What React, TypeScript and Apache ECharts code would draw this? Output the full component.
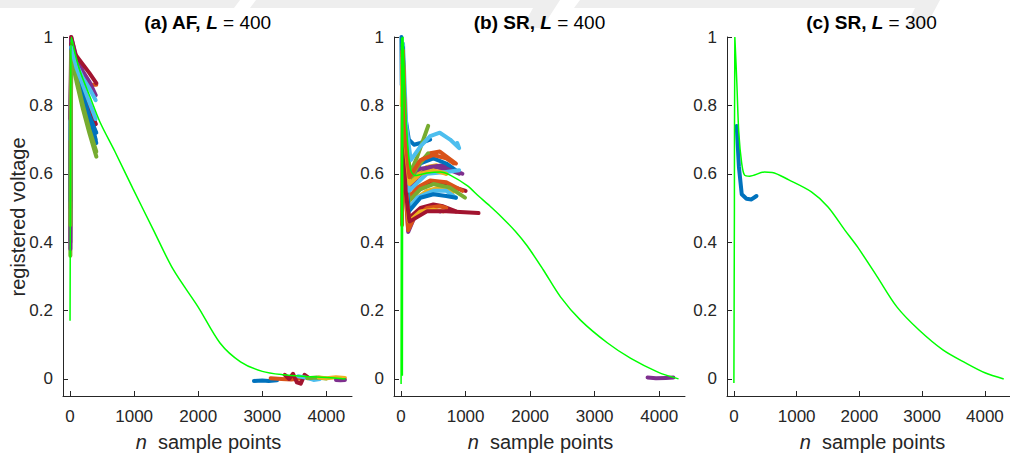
import React, { useEffect, useRef } from "react";
import * as echarts from "echarts";

const COLORS = ["#0072BD", "#D95319", "#EDB120", "#7E2F8E", "#77AC30", "#4DBEEE", "#A2142F"];
const GREEN = "#00FF00";

const xTicks = [0, 1000, 2000, 3000, 4000];
const yTicks = [0, 0.2, 0.4, 0.6, 0.8, 1];

const panelTitles = [
  ["(a) AF, ", "L", " = 400"],
  ["(b) SR, ", "L", " = 400"],
  ["(c) SR, ", "L", " = 300"],
];

// Panel (a): AF, L = 400 — [color index, [n, voltage] pairs]
const tracesA: [number, number[][]][] = [
  [0, [[5, 0.5], [18, 0.99], [100, 0.92], [200, 0.84], [300, 0.77], [400, 0.7]]],
  [1, [[5, 0.6], [18, 0.98], [100, 0.93], [200, 0.89], [300, 0.86], [410, 0.86]]],
  [2, [[5, 0.55], [18, 0.97], [100, 0.9], [200, 0.83], [300, 0.77], [400, 0.72]]],
  [3, [[5, 0.4], [18, 1.0], [100, 0.94], [200, 0.9], [300, 0.87], [400, 0.83]]],
  [4, [[5, 0.36], [18, 0.95], [100, 0.87], [200, 0.79], [300, 0.72], [410, 0.65]]],
  [5, [[5, 0.7], [18, 0.98], [100, 0.92], [200, 0.88], [300, 0.85], [400, 0.815]]],
  [6, [[5, 0.76], [18, 1.0], [80, 0.95], [200, 0.92], [300, 0.895], [410, 0.865]]],
  [0, [[5, 0.52], [18, 0.98], [100, 0.91], [200, 0.82], [300, 0.76], [410, 0.69]]],
  [3, [[5, 0.38], [18, 0.99], [100, 0.92], [200, 0.86], [300, 0.8], [400, 0.745]]],
  [6, [[18, 0.98], [100, 0.91], [200, 0.85], [300, 0.8], [400, 0.745]]],
  [0, [[18, 0.97], [100, 0.9], [200, 0.83], [300, 0.77], [410, 0.72]]],
  [4, [[5, 0.45], [18, 0.96], [100, 0.88], [200, 0.8], [300, 0.73], [410, 0.665]]],
  [5, [[18, 0.97], [100, 0.91], [200, 0.86], [300, 0.81], [400, 0.76]]],
  [0, [[2870, -0.006], [3000, -0.005], [3100, -0.006], [3230, -0.004]]],
  [1, [[3130, 0.002], [3300, 0.0], [3450, -0.002], [3600, 0.001]]],
  [6, [[3350, 0.012], [3420, 0.0], [3480, 0.015], [3540, -0.01], [3600, -0.014], [3660, 0.012], [3720, 0.004], [3780, 0.0]]],
  [5, [[3560, 0.008], [3700, 0.003], [3800, -0.003], [3900, 0.0]]],
  [4, [[3700, 0.002], [3850, 0.004], [4000, 0.001]]],
  [2, [[3880, 0.004], [4000, 0.002], [4150, 0.005], [4290, 0.003]]],
  [3, [[4150, -0.003], [4220, -0.004], [4290, -0.003]]],
];
const greenA = [
  [0, 0.17], [5, 0.5], [12, 0.9], [20, 1.0], [80, 0.95], [156, 0.9], [312, 0.825], [470, 0.75],
  [700, 0.665], [985, 0.555], [1300, 0.436], [1610, 0.32], [2000, 0.21], [2340, 0.105],
  [2660, 0.05], [3000, 0.022], [3330, 0.012], [3700, 0.007], [4000, 0.004], [4300, 0.0],
];

// Panel (b): SR, L = 400
const tracesB: [number, number[][]][] = [
  [0, [[5, 1.0], [10, 0.86], [25, 0.86], [70, 0.76], [120, 0.7], [200, 0.685], [300, 0.69], [450, 0.7]]],
  [1, [[25, 0.95], [70, 0.72], [130, 0.6], [250, 0.63], [450, 0.66], [600, 0.665], [850, 0.63]]],
  [2, [[25, 0.97], [70, 0.7], [130, 0.585], [250, 0.6], [400, 0.62], [550, 0.625], [700, 0.6]]],
  [3, [[25, 0.96], [70, 0.66], [120, 0.55], [250, 0.59], [450, 0.62], [650, 0.625], [950, 0.6]]],
  [4, [[25, 0.98], [70, 0.72], [140, 0.6], [250, 0.65], [420, 0.74]]],
  [5, [[30, 0.98], [80, 0.74], [150, 0.64], [300, 0.68], [450, 0.71], [600, 0.72], [760, 0.7], [900, 0.675], [870, 0.69]]],
  [6, [[25, 0.94], [70, 0.62], [120, 0.52], [250, 0.55], [450, 0.57], [650, 0.57], [1000, 0.55]]],
  [0, [[25, 0.97], [70, 0.68], [130, 0.58], [300, 0.63], [500, 0.645], [700, 0.63], [850, 0.61]]],
  [1, [[25, 0.94], [70, 0.64], [120, 0.53], [250, 0.56], [450, 0.58], [700, 0.575], [950, 0.55]]],
  [2, [[25, 0.95], [70, 0.62], [120, 0.5], [250, 0.53], [400, 0.55], [600, 0.56], [800, 0.545]]],
  [3, [[25, 0.92], [70, 0.55], [110, 0.43], [200, 0.47], [350, 0.49], [500, 0.495], [600, 0.49]]],
  [4, [[25, 0.95], [70, 0.63], [120, 0.52], [300, 0.555], [500, 0.57], [750, 0.56], [990, 0.53]]],
  [5, [[25, 0.93], [70, 0.6], [120, 0.5], [250, 0.53], [500, 0.55], [700, 0.55], [850, 0.53]]],
  [6, [[25, 0.92], [70, 0.58], [120, 0.47], [300, 0.5], [500, 0.51], [650, 0.505], [850, 0.49]]],
  [0, [[25, 0.93], [70, 0.6], [120, 0.49], [300, 0.53], [500, 0.54], [700, 0.535], [850, 0.53]]],
  [1, [[15, 0.45], [25, 0.91], [70, 0.55], [110, 0.435], [200, 0.47], [400, 0.5], [600, 0.505], [700, 0.5]]],
  [2, [[25, 0.92], [70, 0.56], [120, 0.46], [300, 0.49], [500, 0.495], [650, 0.49]]],
  [3, [[25, 0.95], [70, 0.66], [130, 0.6], [300, 0.615], [500, 0.62], [700, 0.615], [900, 0.6]]],
  [4, [[25, 0.96], [70, 0.66], [140, 0.58], [250, 0.62], [420, 0.66]]],
  [5, [[25, 0.94], [70, 0.65], [120, 0.55], [400, 0.6], [700, 0.605], [900, 0.61]]],
  [6, [[25, 0.9], [70, 0.55], [130, 0.46], [400, 0.49], [700, 0.49], [1200, 0.485]]],
  [2, [[10, 0.8], [25, 0.96], [70, 0.68], [130, 0.57], [300, 0.6], [500, 0.61], [700, 0.6]]],
  [1, [[25, 0.96], [70, 0.69], [130, 0.59], [300, 0.64], [500, 0.655], [700, 0.645], [820, 0.63]]],
  [3, [[3820, 0.004], [3950, 0.002], [4100, 0.003], [4220, 0.004]]],
];
const greenB = [
  [0, -0.015], [8, 1.0], [20, 0.01], [30, 1.0], [70, 0.78], [109, 0.67], [150, 0.61], [217, 0.595],
  [400, 0.602], [605, 0.605], [760, 0.596], [1025, 0.565], [1200, 0.535], [1380, 0.505], [1560, 0.473],
  [1770, 0.432], [1950, 0.39], [2200, 0.32], [2470, 0.24], [2780, 0.172], [3200, 0.105], [3560, 0.06],
  [3980, 0.02], [4300, 0.0],
];

// Panel (c): SR, L = 300
const tracesC: [number, number[][]][] = [
  [0, [[45, 0.74], [80, 0.62], [125, 0.54], [200, 0.527], [280, 0.525], [360, 0.535]]],
];
const greenC = [
  [0, -0.012], [8, 0.5], [15, 1.0], [47, 0.865], [78, 0.72], [125, 0.63], [170, 0.596], [250, 0.593],
  [485, 0.605], [610, 0.604], [875, 0.582], [1235, 0.547], [1500, 0.503], [1765, 0.436], [1970, 0.386],
  [2280, 0.3], [2600, 0.21], [2950, 0.143], [3330, 0.085], [3690, 0.047], [4000, 0.018], [4300, 0.0],
];

const FONT = "'Liberation Sans', Arial, Helvetica, sans-serif";
const AXIS_COLOR = "#262626";

const grids = [
  { left: 63, top: 37, width: 289, height: 359 },
  { left: 394, top: 37, width: 291, height: 359 },
  { left: 727, top: 37, width: 289, height: 359 },
];

export default function App() {
  const ref = useRef<HTMLDivElement>(null);
  useEffect(() => {
    if (!ref.current) return;
    const chart = echarts.init(ref.current, undefined, { renderer: "svg" });
    const xAxis = grids.map((_, i) => ({
      type: "value",
      gridIndex: i,
      min: -110,
      max: 4400,
      splitLine: { show: false },
      axisLine: { onZero: false, lineStyle: { color: AXIS_COLOR, width: 1 } },
      axisTick: { inside: true, length: 5, customValues: xTicks, lineStyle: { color: AXIS_COLOR } },
      axisLabel: {
        customValues: xTicks,
        color: AXIS_COLOR,
        fontSize: 17,
        fontFamily: FONT,
        margin: 12,
        formatter: (v: number) => String(v),
      },
    }));
    const yAxis = grids.map((_, i) => ({
      type: "value",
      gridIndex: i,
      min: -0.05,
      max: 1,
      splitLine: { show: false },
      axisLine: { onZero: false, lineStyle: { color: AXIS_COLOR, width: 1 } },
      axisTick: { inside: true, length: 5, customValues: yTicks, lineStyle: { color: AXIS_COLOR } },
      axisLabel: {
        customValues: yTicks,
        color: AXIS_COLOR,
        fontSize: 17,
        fontFamily: FONT,
        margin: 10,
        formatter: (v: number) => String(Math.round(v * 10) / 10),
      },
    }));
    const series: any[] = [];
    const addTraces = (traces: [number, number[][]][], idx: number) => {
      traces.forEach(([c, pts]) => {
        series.push({
          type: "line",
          xAxisIndex: idx,
          yAxisIndex: idx,
          data: pts,
          showSymbol: false,
          silent: true,
          lineStyle: { color: COLORS[c], width: 4, cap: "round", join: "round" },
        });
      });
    };
    const addGreen = (pts: number[][], idx: number) => {
      series.push({
        type: "line",
        xAxisIndex: idx,
        yAxisIndex: idx,
        data: pts,
        showSymbol: false,
        silent: true,
        smooth: 0.3,
        lineStyle: { color: GREEN, width: 1.5 },
      });
    };
    addTraces(tracesA, 0);
    addGreen(greenA, 0);
    addTraces(tracesB, 1);
    addGreen(greenB, 1);
    addTraces(tracesC, 2);
    addGreen(greenC, 2);

    const titleRich = {
      b: { fontWeight: "bold", fontSize: 19, fontFamily: FONT, fill: "#000" },
      bi: { fontWeight: "bold", fontStyle: "italic", fontSize: 19, fontFamily: FONT, fill: "#000" },
      n: { fontWeight: "normal", fontSize: 19, fontFamily: FONT, fill: "#000" },
    };
    const labelRich = {
      i: { fontStyle: "italic", fontSize: 20, fontFamily: FONT, fill: AXIS_COLOR },
      r: { fontSize: 20, fontFamily: FONT, fill: AXIS_COLOR },
    };
    const graphic: any[] = [
      { type: "polygon", silent: true, z: -10, shape: { points: [[0, 0], [240, 0], [234, 8], [0, 8]] }, style: { fill: "#eeeeee" } },
      { type: "polygon", silent: true, z: -10, shape: { points: [[256, 0], [560, 0], [542, 28], [522, 28], [533, 8], [250, 8]] }, style: { fill: "#eeeeee" } },
      { type: "polygon", silent: true, z: -10, shape: { points: [[580, 0], [940, 0], [925, 28], [905, 28], [915, 8], [574, 8]] }, style: { fill: "#eeeeee" } },
    ];
    grids.forEach((g, i) => {
      const cx = g.left + g.width / 2;
      const [a, l, b] = panelTitles[i];
      graphic.push({
        type: "text",
        x: cx,
        y: 22,
        style: { text: `{b|${a}}{bi|${l}}{n|${b}}`, rich: titleRich, align: "center", verticalAlign: "middle" },
      });
      graphic.push({
        type: "text",
        x: cx + 1,
        y: 442,
        style: { text: "{i|n}{r|  sample points}", rich: labelRich, align: "center", verticalAlign: "middle" },
      });
    });
    graphic.push({
      type: "text",
      x: 18,
      y: 217,
      rotation: Math.PI / 2,
      style: {
        text: "registered voltage",
        font: `20px ${FONT}`,
        fill: AXIS_COLOR,
        align: "center",
        verticalAlign: "middle",
      },
    });

    chart.setOption({
      animation: false,
      backgroundColor: "#ffffff",
      grid: grids.map((g) => ({ ...g, containLabel: false })),
      xAxis,
      yAxis,
      series,
      graphic,
    });
    return () => chart.dispose();
  }, []);
  return <div ref={ref} style={{ position: "fixed", left: 0, top: 0, width: 1010, height: 455 }} />;
}
